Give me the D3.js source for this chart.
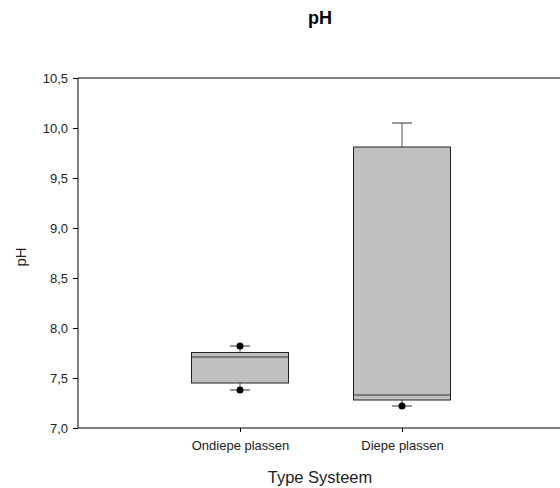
<!DOCTYPE html>
<html><head><meta charset="utf-8">
<script src="https://cdn.jsdelivr.net/npm/d3@7"></script>
<style>body{margin:0;background:#fff;} svg{display:block;font-family:"Liberation Sans",Arial,sans-serif;}</style>
</head><body>
<svg id="c" width="560" height="488"></svg>
<script>
const categories = ["Ondiepe plassen", "Diepe plassen"];
const q1 = [7.45, 7.28];
const median = [7.71, 7.33];
const q3 = [7.755, 9.81];
const whiskerLow = [7.38, 7.22];
const whiskerHigh = [7.82, 10.05];
const outliers = [[7.82, 7.38], [7.22]];
const yTicks = [7.0, 7.5, 8.0, 8.5, 9.0, 9.5, 10.0, 10.5];

const svg = d3.select("#c");
const L = 78, R = 564, T = 78, B = 428;
const x = d3.scaleLinear().domain([0, 3]).range([L, R]);
const y = d3.scaleLinear().domain([7.0, 10.5]).range([B, T]);
const fmt = d => d.toFixed(1).replace(".", ",");

// frame top & right
svg.append("line").attr("x1", L).attr("x2", R).attr("y1", T).attr("y2", T).attr("stroke", "#000").attr("stroke-width", 1);
svg.append("line").attr("x1", R).attr("x2", R).attr("y1", T).attr("y2", B).attr("stroke", "#000");

// y axis
const ya = svg.append("g").attr("transform", `translate(${L},0)`)
  .call(d3.axisLeft(y).tickValues(yTicks).tickFormat(fmt).tickSize(5).tickPadding(5));
ya.selectAll("text").attr("font-size", 13).attr("fill", "#222").attr("font-family", "Liberation Sans, Arial, sans-serif");
ya.select(".domain").attr("d", `M0,${T}V${B}`);

// x axis
const xa = svg.append("g").attr("transform", `translate(0,${B})`)
  .call(d3.axisBottom(x).tickValues([1, 2]).tickFormat((d, i) => categories[i]).tickSize(4).tickPadding(9));
xa.selectAll("text").attr("font-size", 13).attr("fill", "#222").attr("font-family", "Liberation Sans, Arial, sans-serif");
xa.select(".domain").attr("d", `M${L},0H${R}`);

const bw = 97, cw = 20;
categories.forEach((c, i) => {
  const cx = x(i + 1);
  const g = svg.append("g");
  // whiskers
  g.append("line").attr("x1", cx).attr("x2", cx).attr("y1", y(q3[i])).attr("y2", y(whiskerHigh[i])).attr("stroke", "#555");
  g.append("line").attr("x1", cx).attr("x2", cx).attr("y1", y(q1[i])).attr("y2", y(whiskerLow[i])).attr("stroke", "#555");
  g.append("line").attr("x1", cx - cw / 2).attr("x2", cx + cw / 2).attr("y1", y(whiskerHigh[i])).attr("y2", y(whiskerHigh[i])).attr("stroke", "#333");
  g.append("line").attr("x1", cx - cw / 2).attr("x2", cx + cw / 2).attr("y1", y(whiskerLow[i])).attr("y2", y(whiskerLow[i])).attr("stroke", "#333");
  // box
  g.append("rect").attr("x", cx - bw / 2).attr("y", y(q3[i])).attr("width", bw).attr("height", y(q1[i]) - y(q3[i]))
    .attr("fill", "#c0c0c0").attr("stroke", "#222").attr("stroke-width", 1);
  g.append("line").attr("x1", cx - bw / 2).attr("x2", cx + bw / 2).attr("y1", y(median[i])).attr("y2", y(median[i])).attr("stroke", "#333");
  // outliers
  outliers[i].forEach(v => {
    g.append("circle").attr("cx", cx).attr("cy", y(v)).attr("r", 3.5).attr("fill", "#000");
  });
});

// titles
svg.append("text").attr("x", 320).attr("y", 24).attr("text-anchor", "middle").attr("font-size", 18).attr("font-weight", "bold").text("pH");
svg.append("text").attr("x", 320).attr("y", 483).attr("text-anchor", "middle").attr("font-size", 16.5).attr("fill", "#222").text("Type Systeem");
svg.append("text").attr("transform", "translate(26,257) rotate(-90)").attr("text-anchor", "middle").attr("font-size", 15).attr("fill", "#222").text("pH");
</script>
</body></html>
